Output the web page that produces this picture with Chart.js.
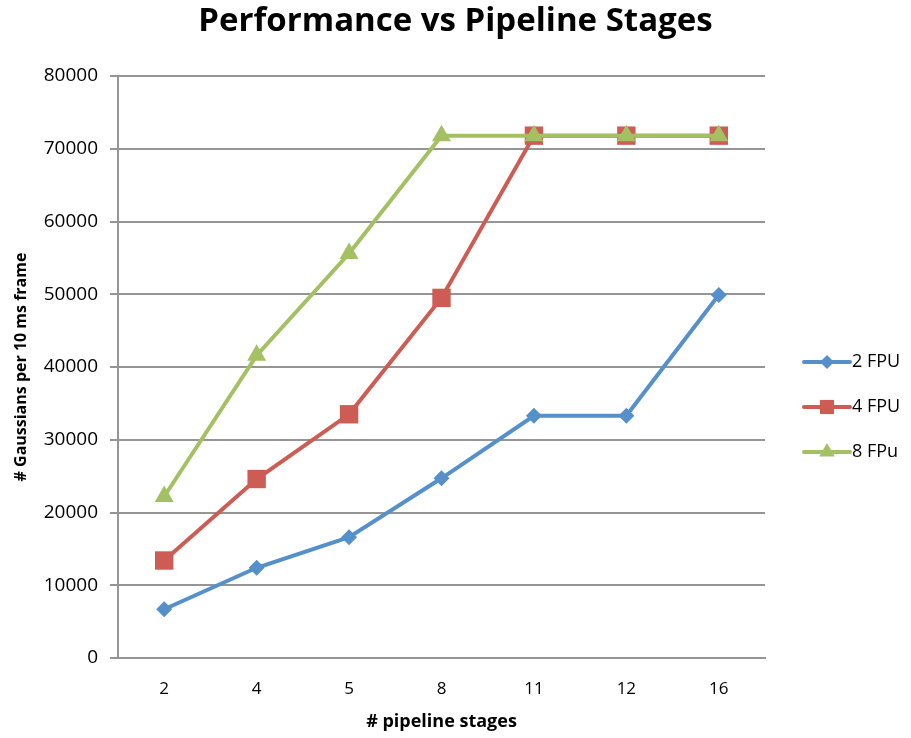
<!DOCTYPE html>
<html>
<head>
<meta charset="utf-8">
<script src="https://cdn.jsdelivr.net/npm/chart.js@4/dist/chart.umd.min.js"></script>
<style>
  html, body { margin: 0; padding: 0; background: #ffffff; }
  #wrap { width: 911px; height: 738px; }
</style>
</head>
<body>
<div id="wrap"><canvas id="c" width="911" height="738"></canvas></div>
<script>
// Pipeline depth (categories) and throughput per FPU count
const stages = ['2', '4', '5', '8', '11', '12', '16'];
const fpu2 = [6700, 12400, 16600, 24700, 33300, 33300, 49900];
const fpu4 = [13400, 24600, 33500, 49500, 71800, 71800, 71800];
const fpu8 = [22200, 41600, 55600, 71800, 71800, 71800, 71800];
const seriesNames = ['2 FPU', '4 FPU', '8 FPu'];
const yMin = 0, yMax = 80000, yStep = 10000;

const FONT = '"Open Sans", "Liberation Sans", sans-serif';
const GRID = '#959595';
const colors = ['#5590CB', '#CD5C55', '#A3C163'];
const styles = ['rectRot', 'rect', 'triangle'];
const radii = [8, 13, 11];
const legendRadii = [7, 10, 9];

// Legend on the right: a short line with the series marker, then its name
const sideLegend = {
  id: 'sideLegend',
  afterDraw(chart) {
    const ctx = chart.ctx;
    const area = chart.chartArea;
    const x0 = area.right + 39, x1 = x0 + 46;
    const yc = (area.top + area.bottom) / 2 + 40;
    const gap = 45;
    chart.data.datasets.forEach((ds, i) => {
      const y = yc + (i - 1) * gap;
      ctx.save();
      ctx.strokeStyle = ds.borderColor;
      ctx.lineWidth = 4;
      ctx.lineCap = 'round';
      ctx.beginPath();
      ctx.moveTo(x0, y);
      ctx.lineTo(x1, y);
      ctx.stroke();
      ctx.fillStyle = ds.borderColor;
      ctx.strokeStyle = ds.borderColor;
      Chart.helpers.drawPoint(ctx, { pointStyle: ds.pointStyle, radius: legendRadii[i], rotation: 0, borderWidth: 0 }, (x0 + x1) / 2, y);
      ctx.fillStyle = '#000000';
      ctx.font = '18px ' + FONT;
      ctx.textAlign = 'left';
      ctx.textBaseline = 'middle';
      ctx.fillText(ds.label, x1 + 2, y);
      ctx.restore();
    });
  }
};

const seriesData = [fpu2, fpu4, fpu8];
const datasets = seriesData.map((d, i) => ({
  label: seriesNames[i],
  data: d,
  yAxisID: 'y',
  borderColor: colors[i],
  backgroundColor: colors[i],
  borderWidth: 4,
  pointStyle: styles[i],
  pointRadius: radii[i],
  pointBorderWidth: 0,
  pointBackgroundColor: colors[i],
  tension: 0,
  order: 2 - i
}));

new Chart(document.getElementById('c'), {
  type: 'line',
  data: { labels: stages, datasets },
  options: {
    responsive: false,
    animation: false,
    devicePixelRatio: 1,
    layout: { padding: 0 },
    plugins: {
      legend: { display: false },
      tooltip: { enabled: false },
      title: {
        display: true,
        text: 'Performance vs Pipeline Stages',
        color: '#000000',
        font: { family: FONT, size: 33, weight: 'bold', lineHeight: 1.2 },
        padding: { top: 2, bottom: 34.4 }
      }
    },
    scales: {
      x: {
        type: 'category',
        offset: true,
        grid: { display: false, drawTicks: false },
        border: { display: true, color: GRID, width: 2 },
        ticks: { color: '#000000', font: { family: FONT, size: 17 }, padding: 21 },
        title: {
          display: true,
          text: '# pipeline stages',
          color: '#000000',
          font: { family: FONT, size: 18, weight: 'bold', lineHeight: 1.2 },
          padding: { top: 0, bottom: 5 }
        },
        afterFit(s) { s.height = 80; }
      },
      y: {
        position: 'left',
        min: yMin,
        max: yMax,
        ticks: {
          stepSize: yStep,
          color: '#000000',
          font: { family: FONT, size: 19 },
          padding: 12,
          callback: (v) => String(v)
        },
        grid: { color: GRID, lineWidth: 2, tickLength: 8, drawTicks: true },
        border: { display: true, color: GRID, width: 2 },
        title: {
          display: true,
          text: '# Gaussians per 10 ms frame',
          color: '#000000',
          font: { family: FONT, size: 16, weight: 'bold', lineHeight: 1.2 },
          padding: { top: 12, bottom: 0 }
        },
        afterFit(s) { s.width = 118; }
      },
      // empty right-hand strip that holds the legend
      legendSpace: {
        position: 'right',
        display: true,
        grid: { display: false, drawTicks: false },
        border: { display: false },
        ticks: { display: false },
        afterFit(s) { s.width = 146; }
      }
    }
  },
  plugins: [sideLegend]
});
</script>
</body>
</html>
